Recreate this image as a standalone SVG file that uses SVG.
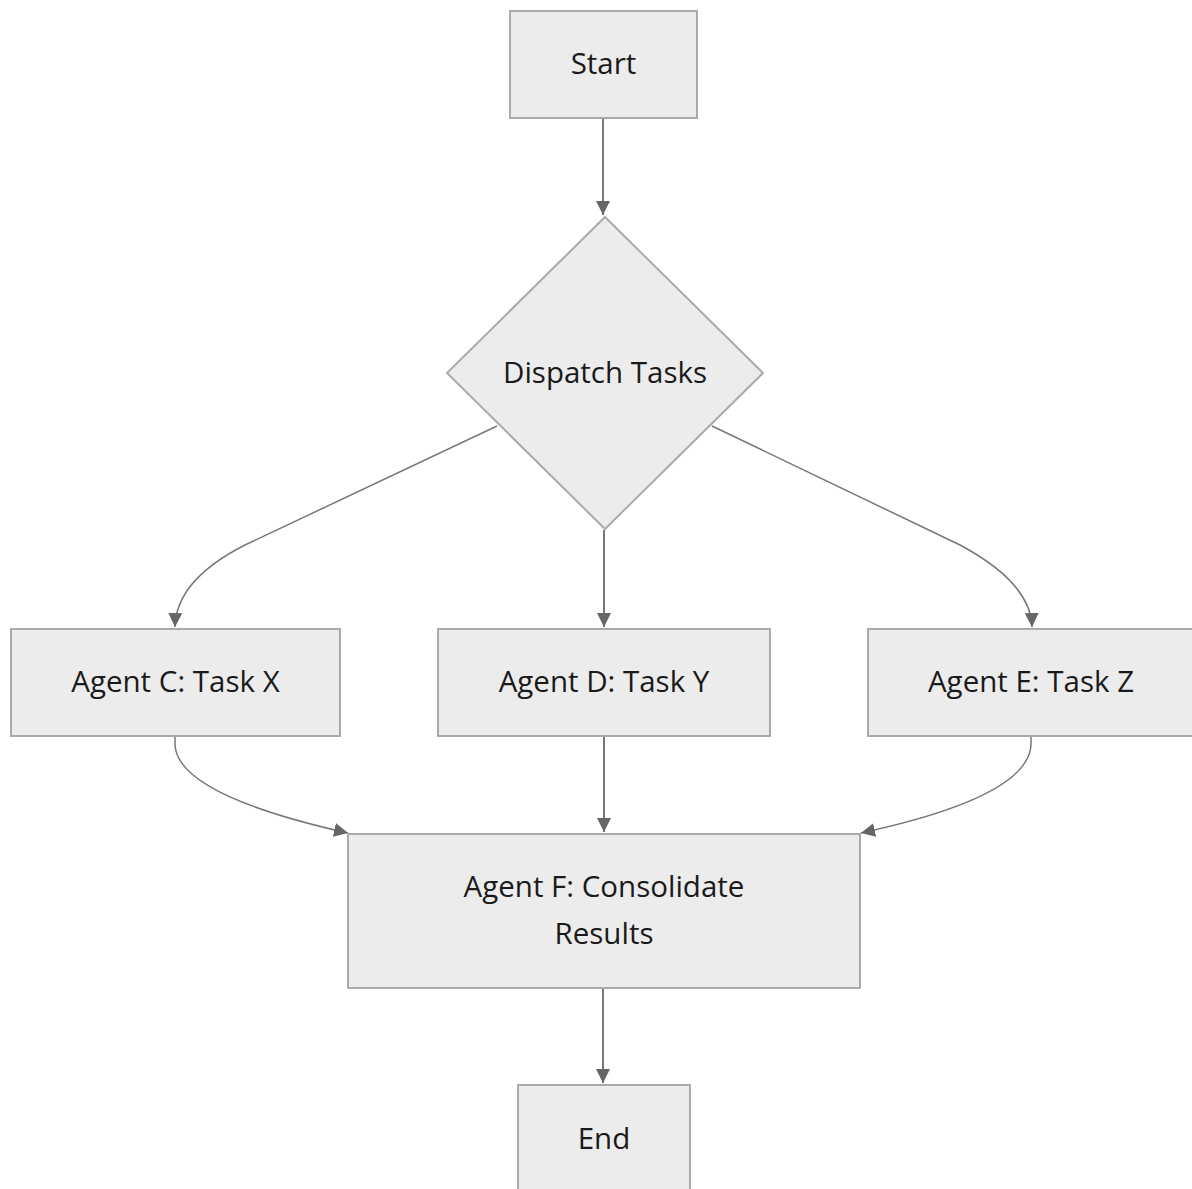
<svg xmlns="http://www.w3.org/2000/svg" width="1192" height="1189" viewBox="0 0 1192 1189">
  <style>
    .node { fill: #ececec; stroke: #aaaaaa; stroke-width: 2; }
    .label { font-family: "Open Sans", "Noto Sans", sans-serif; font-size: 29.5px; fill: #1a1a1a; text-anchor: middle; }
    .edge { fill: none; stroke: #777777; stroke-width: 2; }
  </style>
  <defs>
    <marker id="arrowL" viewBox="0 0 10 10" refX="10" refY="5" markerWidth="14" markerHeight="14" markerUnits="userSpaceOnUse" orient="auto">
      <path d="M0,0 L10,5 L0,10 z" fill="#666666"/>
    </marker>
  </defs>

  <g id="edges">
    <path class="edge" d="M603,118 L603,215" marker-end="url(#arrowL)"/>
    <path class="edge" style="stroke-width:1.5" d="M497,426 L245,545 Q176,580 175,627" marker-end="url(#arrowL)"/>
    <path class="edge" d="M604,530 L604,627" marker-end="url(#arrowL)"/>
    <path class="edge" style="stroke-width:1.5" d="M712,426 L960,545 Q1031,583 1032,627" marker-end="url(#arrowL)"/>
    <path class="edge" style="stroke-width:1.5" d="M175,737 L175,745 Q178,795 348,833" marker-end="url(#arrowL)"/>
    <path class="edge" d="M604,737 L604,832" marker-end="url(#arrowL)"/>
    <path class="edge" style="stroke-width:1.5" d="M1031,737 L1031,745 Q1028,797 861,833" marker-end="url(#arrowL)"/>
    <path class="edge" d="M603,988 L603,1083" marker-end="url(#arrowL)"/>
  </g>

  <g id="start">
    <rect class="node" x="510" y="11" width="187" height="107"/>
    <text class="label" x="603.5" y="74">Start</text>
  </g>

  <g id="dispatch">
    <polygon class="node" points="605,217 763,373 605,529 447,373"/>
    <text class="label" x="605" y="383">Dispatch Tasks</text>
  </g>

  <g id="agentC">
    <rect class="node" x="11" y="629" width="329" height="107"/>
    <text class="label" x="175.5" y="692">Agent C: Task X</text>
  </g>

  <g id="agentD">
    <rect class="node" x="438" y="629" width="332" height="107"/>
    <text class="label" x="604" y="692">Agent D: Task Y</text>
  </g>

  <g id="agentE">
    <rect class="node" x="868" y="629" width="326" height="107"/>
    <text class="label" x="1031" y="692">Agent E: Task Z</text>
  </g>

  <g id="agentF">
    <rect class="node" x="348" y="834" width="512" height="154"/>
    <text class="label" x="604" y="897">Agent F: Consolidate</text>
    <text class="label" x="604" y="944">Results</text>
  </g>

  <g id="end">
    <rect class="node" x="518" y="1085" width="172" height="110"/>
    <text class="label" x="604" y="1149">End</text>
  </g>
</svg>
